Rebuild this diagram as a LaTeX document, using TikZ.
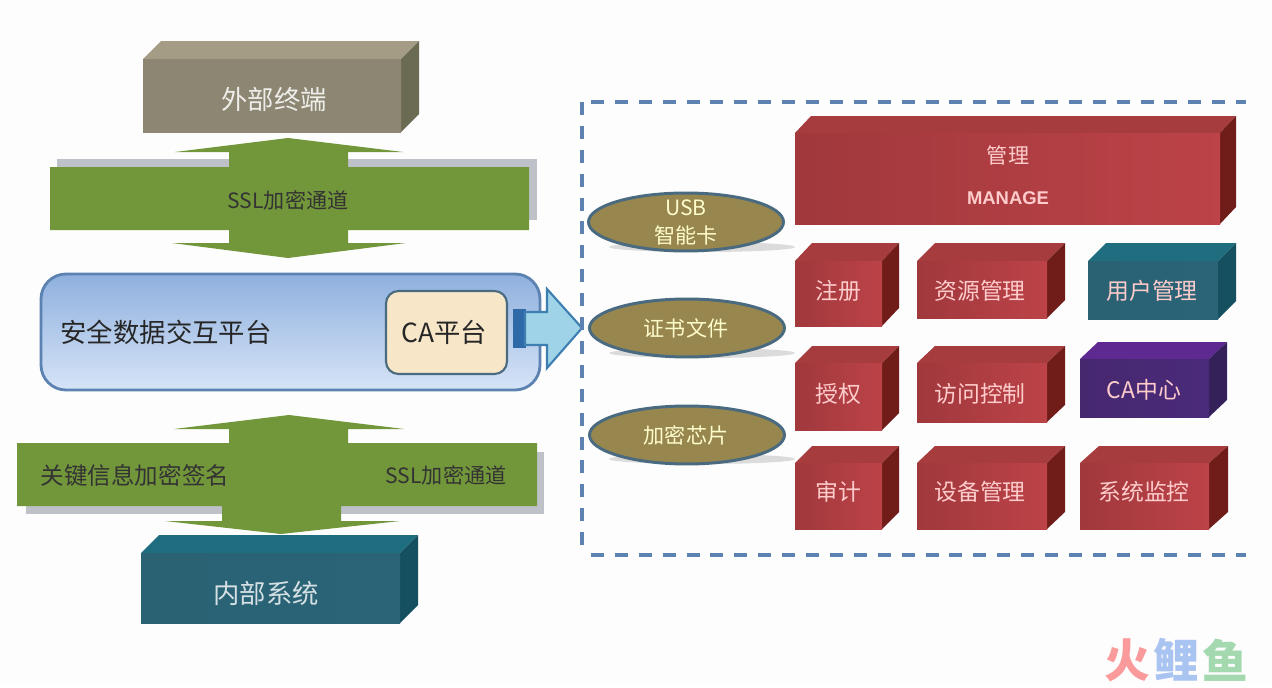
\documentclass[tikz,border=0pt]{standalone}
\usepackage{fontspec}
\setmainfont{Noto Sans CJK SC}
\usetikzlibrary{positioning,shapes.geometric}

\definecolor{pagebg}{HTML}{FDFDFE}
\definecolor{bandgreen}{HTML}{72963A}
\definecolor{bandshadow}{HTML}{BFC1C9}
\definecolor{framedash}{HTML}{5B82B0}
\definecolor{olivefront}{HTML}{8C8672}
\definecolor{olivefade}{HTML}{8C8672}
\definecolor{olivetop}{HTML}{A49C84}
\definecolor{oliveside}{HTML}{6B6A52}
\definecolor{tealfront}{HTML}{2A6476}
\definecolor{tealfade}{HTML}{2A6274}
\definecolor{tealtop}{HTML}{1F6E80}
\definecolor{tealside}{HTML}{14505F}
\definecolor{redfront}{HTML}{BC4348}
\definecolor{redfade}{HTML}{A0383C}
\definecolor{redtop}{HTML}{A63C3E}
\definecolor{redside}{HTML}{701D1A}
\definecolor{purplefront}{HTML}{4A2A7A}
\definecolor{purplefade}{HTML}{46286F}
\definecolor{purpletop}{HTML}{5E2A92}
\definecolor{purpleside}{HTML}{35215A}
\definecolor{discfill}{HTML}{97874F}
\definecolor{discline}{HTML}{4A6A80}
\definecolor{platformtop}{HTML}{8FB0DE}
\definecolor{platformbottom}{HTML}{D6E4F7}
\definecolor{capanel}{HTML}{F7E6C8}
\definecolor{arrowfill}{HTML}{9FD4E8}
\definecolor{arrowline}{HTML}{3D7FB0}
\definecolor{arrowstub}{HTML}{2F6AA8}
\definecolor{markred}{HTML}{FA9A9A}
\definecolor{markblue}{HTML}{A9C4F0}
\definecolor{markgreen}{HTML}{A4D9B0}

\tikzset{
	blocktext/.style={font=\fontsize{13}{16}\selectfont, text=white!80!red},
	bigtext/.style={font=\fontsize{15}{18}\selectfont, text=#1},
	bandtext/.style={font=\fontsize{12}{14}\selectfont, text=black!80},
	disc/.style={ellipse, draw=discline, line width=1.7pt, fill=discfill, minimum width=3.9cm, minimum height=1.16cm, inner sep=0pt},
	disctext/.style={font=\fontsize{12}{14}\selectfont, text=white!80!yellow},
	discshadow/.style={fill=gray!60, opacity=.45},
	marktext/.style={font=\bfseries\fontsize{26}{30}\selectfont, text=#1},
}

\newcommand{\cubeblock}[7]{
	\fill[#7top] (#1,#2) -- ({#1+#5-#3},#6) -- (#5,#6) -- (#3,#2) -- cycle;
	\fill[#7side] (#3,#2) -- (#5,#6) -- (#5,{#4-#2+#6}) -- (#3,#4) -- cycle;
	\fill[left color=#7fade, right color=#7front] (#1,#2) rectangle (#3,#4);
}

\begin{document}
\begin{tikzpicture}[x=.02cm,y=-.02cm]
	\fill[pagebg] (0,0) rectangle (1272,684);

	\cubeblock{143}{59}{401}{132}{419}{41}{olive}
	\node[bigtext=white!85!olivefront] (terminal) at (274,99) {外部终端};

	\fill[bandshadow] (57,159) rectangle (537,220);
	\fill[bandgreen] (288,138) -- (403,152) -- (348,152) -- (348,167) -- (529,167) -- (529,230) -- (348,230) -- (348,243) -- (406,243) -- (288,258) -- (172,243) -- (229,243) -- (229,230) -- (50,230) -- (50,167) -- (229,167) -- (229,152) -- (175,152) -- cycle;
	\node[bandtext] (sslupper) at (288,200) {SSL加密通道};

	\draw[framedash, line width=1.6pt, rounded corners=.5cm, top color=platformtop, bottom color=platformbottom] (41,274) rectangle (540,390);
	\node[bigtext=black!85] (platform) at (166,332) {安全数据交互平台};
	\draw[discline, line width=1.2pt, rounded corners=.25cm, fill=capanel] (386,291) rectangle (507,374);
	\node[bigtext=black!85] (caplatform) at (444,332) {CA平台};

	\fill[arrowstub] (513,309) rectangle (526,348);
	\draw[arrowline, line width=1.2pt, fill=arrowfill] (525,312) -- (547,312) -- (547,289) -- (582,328) -- (547,368) -- (547,345) -- (525,345) -- cycle;

	\fill[bandshadow] (26,452) rectangle (544,514);
	\fill[bandgreen] (289,415) -- (404,429) -- (348,429) -- (348,443) -- (537,443) -- (537,506) -- (341,506) -- (341,521) -- (400,521) -- (281,534) -- (165,521) -- (222,521) -- (222,506) -- (17,506) -- (17,443) -- (229,443) -- (229,429) -- (174,429) -- cycle;
	\node[font=\fontsize{13.4}{16}\selectfont, text=black!80] (signing) at (135,475) {关键信息加密签名};
	\node[bandtext] (ssllower) at (446,475) {SSL加密通道};

	\cubeblock{141}{553}{400}{623}{418}{535}{teal}
	\node[bigtext=white!80!tealfront] (internal) at (266,593) {内部系统};

	\draw[framedash, line width=2pt, dash pattern=on 7.4pt off 6.2pt] (582,102) -- (582,555);
	\draw[framedash, line width=2pt, dash pattern=on 7.4pt off 6.2pt] (591,102) -- (1246,102) (591,555) -- (1246,555);

	\fill[discshadow] (702,247) ellipse (93 and 5);
	\node[disc] (usbkey) at (686,222) {};
	\node[disctext] (usblabel) at (686,208) {USB};
	\node[disctext] (cardlabel) at (686,235) {智能卡};
	\fill[discshadow] (702,353) ellipse (93 and 5);
	\node[disc] (certfile) at (687,328) {};
	\node[disctext] (certlabel) at (686,328) {证书文件};
	\fill[discshadow] (702,459) ellipse (93 and 5);
	\node[disc] (cryptochip) at (687,435) {};
	\node[disctext] (chiplabel) at (686,435) {加密芯片};

	\cubeblock{795}{133}{1220}{224}{1236}{116}{red}
	\node[font=\fontsize{12}{14}\selectfont, text=white!80!red] (manage) at (1008,155) {管理};
	\node[font=\bfseries\fontsize{10.5}{12}\selectfont\fontspec{Liberation Sans}, text=white!80!red] (managelatin) at (1008,198) {MANAGE};
	\cubeblock{795}{261}{882}{326}{899}{243}{red}
	\node[blocktext] (register) at (838,291) {注册};
	\cubeblock{917}{261}{1047}{318}{1065}{243}{red}
	\node[blocktext] (resources) at (980,291) {资源管理};
	\cubeblock{1088}{261}{1218}{319}{1236}{243}{teal}
	\node[blocktext] (users) at (1152,291) {用户管理};
	\cubeblock{795}{363}{882}{430}{899}{346}{red}
	\node[blocktext] (authorize) at (838,394) {授权};
	\cubeblock{917}{363}{1047}{422}{1065}{346}{red}
	\node[blocktext] (access) at (980,394) {访问控制};
	\cubeblock{1080}{359}{1209}{417}{1227}{342}{purple}
	\node[blocktext] (cacentre) at (1144,390) {CA中心};
	\cubeblock{795}{463}{882}{529}{899}{446}{red}
	\node[blocktext] (audit) at (838,492) {审计};
	\cubeblock{917}{463}{1047}{529}{1065}{446}{red}
	\node[blocktext] (devices) at (980,492) {设备管理};
	\cubeblock{1080}{463}{1209}{529}{1228}{446}{red}
	\node[blocktext] (monitor) at (1144,492) {系统监控};

	\node[marktext=markred] (markfire) at (1127,660) {火};
	\node[marktext=markblue] (markcarp) at (1176,660) {鲤};
	\node[marktext=markgreen] (markfish) at (1225,660) {鱼};
\end{tikzpicture}
\end{document}
